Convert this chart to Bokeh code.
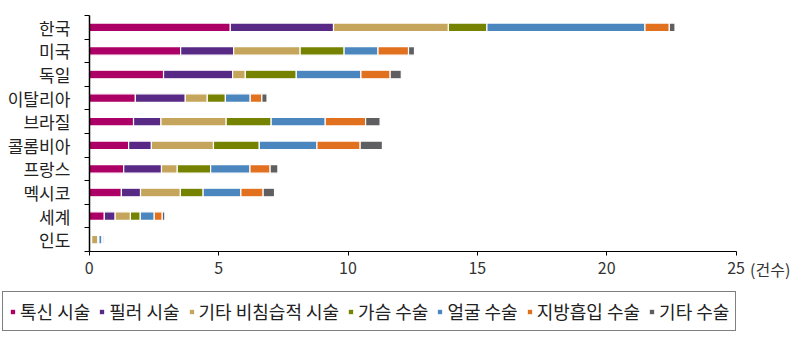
from bokeh.plotting import figure
from bokeh.models import ColumnDataSource, FixedTicker, Legend, LegendItem, Label
from bokeh.embed import file_html
from bokeh.resources import INLINE

countries = ["한국", "미국", "독일", "이탈리아", "브라질", "콜롬비아", "프랑스", "멕시코", "세계", "인도"]
series_names = ["톡신 시술", "필러 시술", "기타 비침습적 시술", "가슴 수술", "얼굴 수술", "지방흡입 수술", "기타 수술"]
toxin   = [5.45, 3.53, 2.87, 1.78, 1.71, 1.52, 1.33, 1.24, 0.58, 0.05]
filler  = [3.99, 2.05, 2.67, 1.93, 1.06, 0.88, 1.46, 0.74, 0.42, 0.04]
other_n = [4.44, 2.57, 0.49, 0.85, 2.52, 2.40, 0.61, 1.54, 0.59, 0.24]
breast  = [1.49, 1.70, 1.97, 0.70, 1.74, 1.77, 1.29, 0.88, 0.38, 0.04]
face    = [6.11, 1.31, 2.50, 0.96, 2.09, 2.23, 1.52, 1.46, 0.54, 0.12]
lipo    = [0.94, 1.18, 1.13, 0.45, 1.56, 1.67, 0.78, 0.86, 0.31, 0.03]
other_s = [0.22, 0.23, 0.43, 0.20, 0.56, 0.86, 0.30, 0.44, 0.10, 0.05]
x_ticks = [0, 5, 10, 15, 20, 25]
unit_label = "(건수)"

colors = ["#AC0066", "#582A85", "#C5A55B", "#768300", "#4B86BE", "#E2711F", "#5F5E60"]
keys = ["toxin", "filler", "other_n", "breast", "face", "lipo", "other_s"]

n = len(countries)
ypos = [n - i - 0.5 for i in range(n)]
src = ColumnDataSource(dict(y=ypos, toxin=toxin, filler=filler, other_n=other_n,
                            breast=breast, face=face, lipo=lipo, other_s=other_s))

# frame covers the whole canvas; axes are drawn at fixed locations
W, H = 797, 343
x0_px, x_scale = 88.8, 25.87      # px of x=0, px per unit
y_top_px, y_bot_px = 15.0, 251.0  # px of y=n and y=0
y_scale = (y_bot_px - y_top_px) / n
xr = (-x0_px / x_scale, (W - x0_px) / x_scale)
yr = (-(H - y_bot_px) / y_scale, n + y_top_px / y_scale)

FONT = "Noto Sans CJK KR"
p = figure(width=W, height=H, x_range=xr, y_range=yr,
           output_backend="svg", toolbar_location=None, min_border=0)
p.outline_line_color = None
p.xgrid.grid_line_color = None
p.ygrid.grid_line_color = None

rends = p.hbar_stack(keys, y="y", height=0.36, color=colors, source=src,
                     line_color="white", line_width=1.2)

# y axis: labels at centres, ticks at boundaries
p.yaxis.fixed_location = 0
p.yaxis.bounds = (0, n)
p.yaxis.ticker = FixedTicker(ticks=ypos, minor_ticks=list(range(0, n + 1)))
p.yaxis.major_label_overrides = {y: c for y, c in zip(ypos, countries)}
p.yaxis.major_tick_out = 0
p.yaxis.major_tick_in = 0
p.yaxis.minor_tick_out = 5
p.yaxis.minor_tick_in = 0
p.yaxis.minor_tick_line_color = "black"
p.yaxis.major_label_standoff = 14
p.yaxis.major_label_text_font = FONT
p.yaxis.major_label_text_font_size = "17px"
p.yaxis.major_label_text_color = "#222222"
p.yaxis.axis_line_color = "black"
p.yaxis.axis_line_width = 1.5

p.xaxis.fixed_location = 0
p.xaxis.bounds = (0, 25)
p.xaxis.ticker = FixedTicker(ticks=x_ticks, minor_ticks=[])
p.xaxis.major_tick_out = 4
p.xaxis.major_tick_in = 0
p.xaxis.major_label_standoff = 6
p.xaxis.major_label_text_font = FONT
p.xaxis.major_label_text_font_size = "16px"
p.xaxis.major_label_text_color = "#333333"
p.xaxis.axis_line_color = "black"
p.xaxis.axis_line_width = 1.2

p.add_layout(Label(x=25, y=-17.5 / y_scale, text=unit_label, x_offset=14, text_baseline="middle",
                   text_font=FONT, text_font_size="16px", text_color="#333333"))

items = [LegendItem(label=s, renderers=[r]) for s, r in zip(series_names, rends)]
legend = Legend(items=items, orientation="horizontal", location=(2, 12),
                label_text_font=FONT, label_text_font_size="18px", label_text_color="#222222",
                glyph_width=7, glyph_height=7, label_standoff=4, spacing=8,
                padding=6, margin=0, border_line_color="black", border_line_width=1,
                label_height=21)
p.add_layout(legend, "center")

open("out.html", "w").write(file_html(p, INLINE))
